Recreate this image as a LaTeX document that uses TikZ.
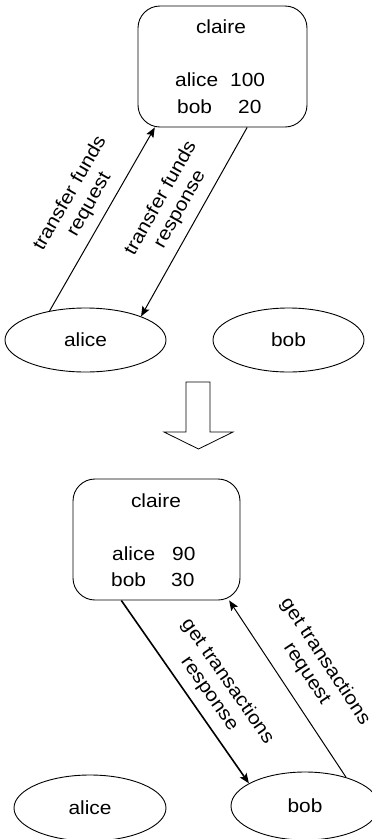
\documentclass[tikz,border=0pt]{standalone}
\usepackage{fontspec}
\setmainfont{Liberation Sans}[FakeStretch=1.1]
\usetikzlibrary{arrows.meta,shapes.geometric}
\begin{document}
\begin{tikzpicture}[x=1pt,y=-1pt,
  every node/.style={font=\fontsize{19}{22}\selectfont},
  box/.style={draw, rounded corners=22pt, inner sep=0pt, line width=0.9pt},
  party/.style={draw, ellipse, inner sep=0pt, line width=0.9pt},
  txt/.style={inner sep=0pt, anchor=base west},
  msg/.style={line width=1pt, -{Stealth[length=10pt,width=8pt,inset=2pt]}},
  lbl/.style={sloped, align=center, inner sep=0pt, above=9pt},
  bigarrow/.style={draw, line width=0.8pt, line join=miter}
]
\useasboundingbox (0,0) rectangle (372,839);
\clip (0,0) rectangle (372,839);

% ---- top state ----
\node[box, minimum width=169pt, minimum height=121pt] (claireA) at (222.5,66.5) {};
\node[inner sep=0pt, anchor=base] (claireAname) at (221,33) {claire};
\node[txt] (claireAalice) at (175,86) {alice};
\node[txt] (claireAaliceval) at (230,86) {100};
\node[txt] (claireAbob) at (177,113) {bob};
\node[txt] (claireAbobval) at (238,113) {20};
\node[party, minimum width=161pt, minimum height=64pt] (aliceA) at (85.5,340) {alice};
\node[party, minimum width=151pt, minimum height=64pt] (bobA) at (288.5,340) {bob};

\draw[msg] (aliceA.141) -- node[lbl, pos=0.53] {transfer funds\\request} (claireA.222);
\draw[msg] (claireA.292) -- node[lbl, pos=0.48] {transfer funds\\response} (aliceA.23);

% ---- transition arrow ----
\path[bigarrow] (186,382) -- (210,382) -- (210,432) -- (233,432) -- (198.5,449)
  -- (164,432) -- (186,432) -- cycle;

% ---- bottom state ----
\node[box, minimum width=167pt, minimum height=121pt] (claireB) at (156.5,539.5) {};
\node[inner sep=0pt, anchor=base] (claireBname) at (156,507) {claire};
\node[txt] (claireBalice) at (112,560) {alice};
\node[txt] (claireBaliceval) at (172,560) {90};
\node[txt] (claireBbob) at (111,586) {bob};
\node[txt] (claireBbobval) at (171,586) {30};
\node[party, minimum width=152pt, minimum height=66pt] (aliceB) at (90,808) {alice};
\node[party, minimum width=148pt, minimum height=68pt] (bobB) at (305,806) {bob};

\draw[msg, line width=1.6pt] (claireB.240) -- node[lbl, pos=0.57] {get transactions\\response} (bobB.158);
\draw[msg] (bobB.35) -- node[lbl, pos=0.51, above=6pt] {get transactions\\request} (claireB.320);
\end{tikzpicture}
\end{document}
